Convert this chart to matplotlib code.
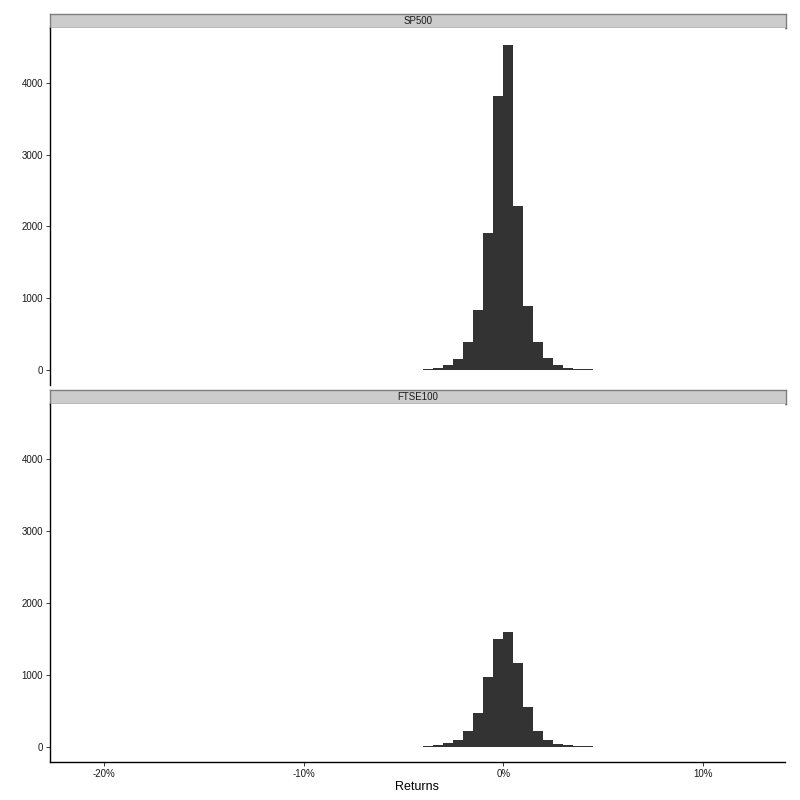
import matplotlib
matplotlib.use("Agg")
import matplotlib.pyplot as plt
from matplotlib.ticker import FuncFormatter

plt.rcParams['font.family'] = ['Liberation Sans', 'DejaVu Sans']

# Bin left edges (percent returns), bin width 0.5%
bin_left = [-4.0, -3.5, -3.0, -2.5, -2.0, -1.5, -1.0, -0.5, 0.0,
            0.5, 1.0, 1.5, 2.0, 2.5, 3.0, 3.5, 4.0]
bin_width = 0.5

sp500_counts = [5, 23, 65, 149, 381, 827, 1905, 3823, 4525,
                2276, 883, 381, 158, 65, 23, 8, 5]
ftse100_counts = [5, 19, 46, 93, 214, 465, 966, 1496, 1593,
                  1161, 548, 214, 93, 37, 19, 7, 5]

panels = ["SP500", "FTSE100"]
series = [sp500_counts, ftse100_counts]

x_ticks = [-20, -10, 0, 10]
y_ticks = [0, 1000, 2000, 3000, 4000]
x_limits = (-22.7, 14.1)
y_limits = (-215, 4765)

W = H = 800.0
fig = plt.figure(figsize=(8, 8), dpi=100)

def frac(l, t, r, b):
    return [l / W, 1 - b / H, (r - l) / W, (b - t) / H]

layout = [
    # strip (top, bottom), panel (top, bottom)
    ((14, 28), (28, 385)),
    ((389.5, 404), (404, 762)),
]

for i, (name, counts) in enumerate(zip(panels, series)):
    (st, sb), (pt, pb) = layout[i]
    # strip
    sax = fig.add_axes(frac(50, st, 786, sb))
    sax.set_facecolor('#cccccc')
    sax.set_xticks([]); sax.set_yticks([])
    for sp in sax.spines.values():
        sp.set_color('#7f7f7f')
        sp.set_linewidth(1.0)
    sax.text(0.5, 0.5, name, ha='center', va='center', fontsize=7,
             color='#1a1a1a', transform=sax.transAxes)

    ax = fig.add_axes(frac(50, pt, 785, pb))
    ax.bar(bin_left, counts, width=bin_width, align='edge',
           color='#333333', edgecolor='none', linewidth=0)
    ax.set_xlim(*x_limits)
    ax.set_ylim(*y_limits)
    ax.set_yticks(y_ticks)
    ax.set_xticks(x_ticks)
    ax.xaxis.set_major_formatter(FuncFormatter(lambda v, p: f"{int(round(v))}%"))
    for s in ['top', 'right']:
        ax.spines[s].set_visible(False)
    ax.spines['left'].set_linewidth(1.0)
    ax.spines['left'].set_color('black')
    ax.tick_params(axis='y', length=3, width=0.6, pad=2, labelsize=7,
                   labelcolor='#1a1a1a', color='#1a1a1a')
    if i == 0:
        ax.spines['bottom'].set_visible(False)
        ax.tick_params(axis='x', bottom=False, labelbottom=False)
    else:
        ax.spines['bottom'].set_linewidth(1.0)
        ax.spines['bottom'].set_color('black')
        ax.tick_params(axis='x', length=3, width=0.6, pad=2, labelsize=7,
                       labelcolor='#1a1a1a', color='#1a1a1a')
        ax.set_xlabel('Returns', fontsize=9, labelpad=1.5)

fig.savefig('out.png', dpi=100, facecolor='white')
